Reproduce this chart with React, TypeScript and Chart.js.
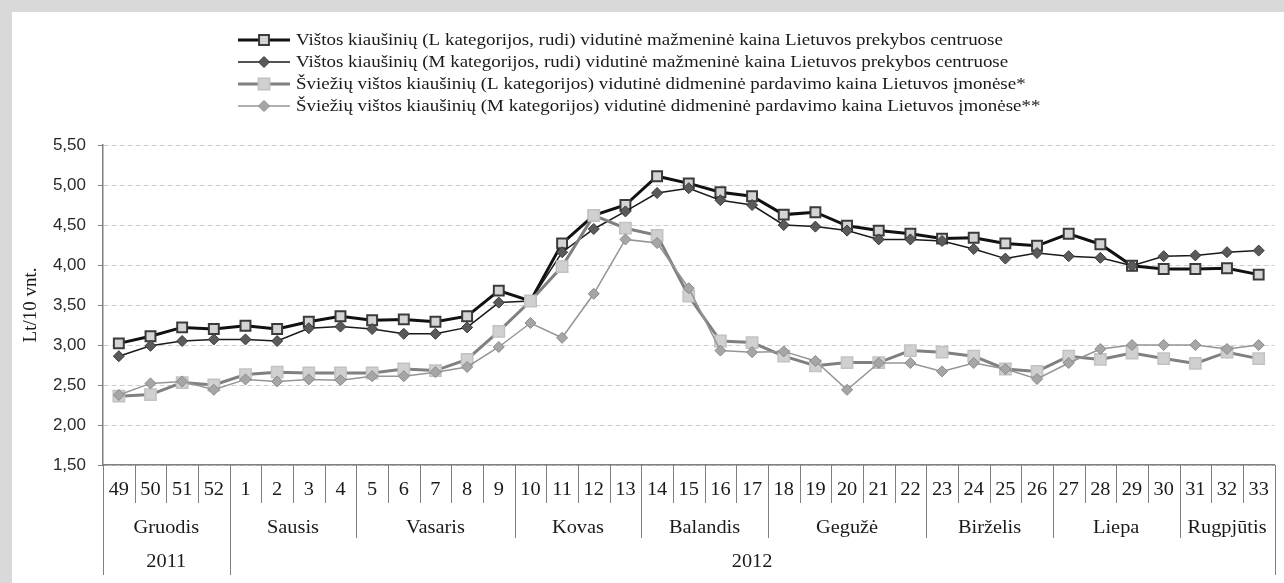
import React, { useEffect, useRef } from 'react';
import { Chart, registerables } from 'chart.js';

Chart.register(...registerables);

// ---- data ----
const weeks = ['49', '50', '51', '52', '1', '2', '3', '4', '5', '6', '7', '8', '9', '10', '11', '12', '13', '14', '15', '16', '17', '18', '19', '20', '21', '22', '23', '24', '25', '26', '27', '28', '29', '30', '31', '32', '33'];
const months = ['Gruodis', 'Sausis', 'Vasaris', 'Kovas', 'Balandis', 'Gegužė', 'Birželis', 'Liepa', 'Rugpjūtis'];
const monthSpans = [4, 4, 5, 4, 4, 5, 4, 4, 3];
const years = ['2011', '2012'];
const yearSpans = [4, 33];

const seriesNames = [
  'Vištos kiaušinių (L kategorijos, rudi) vidutinė mažmeninė kaina Lietuvos prekybos centruose',
  'Vištos kiaušinių (M kategorijos, rudi) vidutinė mažmeninė kaina Lietuvos prekybos centruose',
  'Šviežių vištos kiaušinių (L kategorijos) vidutinė didmeninė pardavimo kaina Lietuvos įmonėse*',
  'Šviežių vištos kiaušinių (M kategorijos) vidutinė didmeninė pardavimo kaina Lietuvos įmonėse**',
];

const lRetail = [3.02, 3.11, 3.22, 3.2, 3.24, 3.2, 3.29, 3.36, 3.31, 3.32, 3.29, 3.36, 3.68, 3.55, 4.27, 4.62, 4.75, 5.11, 5.02, 4.91, 4.86, 4.63, 4.66, 4.49, 4.43, 4.39, 4.33, 4.34, 4.27, 4.24, 4.39, 4.26, 3.99, 3.95, 3.95, 3.96, 3.88];
const mRetail = [2.86, 2.99, 3.05, 3.07, 3.07, 3.05, 3.21, 3.23, 3.2, 3.14, 3.14, 3.22, 3.53, 3.55, 4.16, 4.45, 4.67, 4.9, 4.96, 4.81, 4.75, 4.5, 4.48, 4.43, 4.32, 4.32, 4.3, 4.2, 4.08, 4.15, 4.11, 4.09, 3.99, 4.11, 4.12, 4.16, 4.18];
const lWholesale = [2.36, 2.38, 2.53, 2.5, 2.63, 2.66, 2.65, 2.65, 2.65, 2.7, 2.68, 2.82, 3.17, 3.55, 3.98, 4.62, 4.46, 4.37, 3.61, 3.05, 3.03, 2.86, 2.74, 2.78, 2.78, 2.93, 2.91, 2.86, 2.7, 2.67, 2.86, 2.82, 2.9, 2.83, 2.77, 2.91, 2.83];
const mWholesale = [2.375, 2.52, 2.545, 2.44, 2.57, 2.545, 2.57, 2.56, 2.61, 2.61, 2.66, 2.725, 2.975, 3.275, 3.09, 3.64, 4.32, 4.275, 3.71, 2.93, 2.91, 2.92, 2.8, 2.44, 2.775, 2.775, 2.67, 2.775, 2.7, 2.575, 2.775, 2.95, 3.0, 3.0, 3.0, 2.95, 3.0];

const yMin = 1.5;
const yMax = 5.5;
const yStep = 0.5;
const yTitle = 'Lt/10 vnt.';

const SERIF = '"Liberation Serif", "Times New Roman", serif';
const SANS = '"Liberation Sans", Arial, sans-serif';

function drawMarker(ctx: CanvasRenderingContext2D, style: string, x: number, y: number, r: number, fill: string, stroke: string, bw: number) {
  ctx.save();
  ctx.beginPath();
  if (style === 'rect') {
    const s = Math.SQRT1_2 * r;
    ctx.rect(x - s, y - s, 2 * s, 2 * s);
  } else {
    ctx.moveTo(x, y - r);
    ctx.lineTo(x + r, y);
    ctx.lineTo(x, y + r);
    ctx.lineTo(x - r, y);
    ctx.closePath();
  }
  ctx.fillStyle = fill;
  ctx.fill();
  ctx.lineWidth = bw;
  ctx.strokeStyle = stroke;
  ctx.stroke();
  ctx.restore();
}

function wideText(ctx: CanvasRenderingContext2D, text: string, x: number, y: number, sx: number) {
  ctx.save();
  ctx.translate(x, y);
  ctx.scale(sx, 1);
  ctx.fillText(text, 0, 0);
  ctx.restore();
}

const framePlugin = {
  id: 'frame',
  beforeDraw(chart: any) {
    const { ctx, width, height } = chart;
    ctx.save();
    ctx.fillStyle = '#d9d9d9';
    ctx.fillRect(0, 0, width, height);
    ctx.fillStyle = '#ffffff';
    ctx.fillRect(12, 12, width - 12, height - 12);
    ctx.restore();
  },
};

const legendPlugin = {
  id: 'customLegend',
  afterDraw(chart: any) {
    const ctx: CanvasRenderingContext2D = chart.ctx;
    chart.data.datasets.forEach((ds: any, i: number) => {
      const y = 40 + i * 22;
      const x0 = 238;
      const x1 = 290;
      ctx.save();
      ctx.strokeStyle = ds.borderColor;
      ctx.lineWidth = ds.borderWidth;
      ctx.beginPath();
      ctx.moveTo(x0, y);
      ctx.lineTo(x1, y);
      ctx.stroke();
      drawMarker(ctx, ds.pointStyle, (x0 + x1) / 2, y, ds.pointRadius, ds.pointBackgroundColor, ds.pointBorderColor, ds.pointBorderWidth);
      ctx.fillStyle = '#1a1a1a';
      ctx.font = '17px ' + SERIF;
      ctx.textAlign = 'left';
      ctx.textBaseline = 'middle';
      wideText(ctx, ds.label, 296, y + 1, 1.115);
      ctx.restore();
    });
  },
};

const xLabelsPlugin = {
  id: 'xLabels',
  afterDraw(chart: any) {
    const ctx: CanvasRenderingContext2D = chart.ctx;
    const xs = chart.scales.x;
    const n = weeks.length;
    const bound = (k: number) =>
      k === 0 ? xs.left : k === n ? xs.right : (xs.getPixelForValue(k - 1) + xs.getPixelForValue(k)) / 2;
    const top = xs.top;
    const monthBounds = new Set<number>();
    let acc = 0;
    monthSpans.forEach((s) => { monthBounds.add(acc); acc += s; monthBounds.add(acc); });
    const yearBounds = new Set<number>();
    acc = 0;
    yearSpans.forEach((s) => { yearBounds.add(acc); acc += s; yearBounds.add(acc); });

    ctx.save();
    ctx.strokeStyle = '#7f7f7f';
    ctx.lineWidth = 1;
    for (let k = 0; k <= n; k++) {
      const x = Math.round(bound(k)) + 0.5;
      let len = 38;
      if (monthBounds.has(k)) len = 73;
      if (yearBounds.has(k)) len = 110;
      ctx.beginPath();
      ctx.moveTo(x, top);
      ctx.lineTo(x, top + len);
      ctx.stroke();
    }
    ctx.fillStyle = '#1a1a1a';
    ctx.textAlign = 'center';
    ctx.textBaseline = 'middle';
    ctx.font = '18px ' + SERIF;
    const sx = 1.13;
    weeks.forEach((w, i) => {
      wideText(ctx, w, xs.getPixelForValue(i), top + 25, sx);
    });
    acc = 0;
    months.forEach((m, j) => {
      const x = (bound(acc) + bound(acc + monthSpans[j])) / 2;
      wideText(ctx, m, x, top + 63, sx);
      acc += monthSpans[j];
    });
    acc = 0;
    years.forEach((yv, j) => {
      const x = (bound(acc) + bound(acc + yearSpans[j])) / 2;
      wideText(ctx, yv, x, top + 97, sx);
      acc += yearSpans[j];
    });
    ctx.restore();
  },
};

export default function App() {
  const ref = useRef<HTMLCanvasElement>(null);
  useEffect(() => {
    document.body.style.margin = '0';
    const chart = new Chart(ref.current as HTMLCanvasElement, {
      type: 'line',
      data: {
        labels: weeks,
        datasets: [
          {
            label: seriesNames[0],
            data: lRetail,
            borderColor: '#111111',
            borderWidth: 3,
            pointStyle: 'rect',
            pointRadius: 7,
            pointBackgroundColor: '#d4d4d4',
            pointBorderColor: '#3a3a3a',
            pointBorderWidth: 2,
            order: 4,
          },
          {
            label: seriesNames[1],
            data: mRetail,
            borderColor: '#1a1a1a',
            borderWidth: 1.5,
            pointStyle: 'rectRot',
            pointRadius: 5.5,
            pointBackgroundColor: '#5a5a5a',
            pointBorderColor: '#3a3a3a',
            pointBorderWidth: 1,
            order: 3,
          },
          {
            label: seriesNames[2],
            data: lWholesale,
            borderColor: '#808080',
            borderWidth: 3,
            pointStyle: 'rect',
            pointRadius: 8,
            pointBackgroundColor: '#d0d0d0',
            pointBorderColor: '#c2c2c2',
            pointBorderWidth: 1.5,
            order: 2,
          },
          {
            label: seriesNames[3],
            data: mWholesale,
            borderColor: '#959595',
            borderWidth: 1.5,
            pointStyle: 'rectRot',
            pointRadius: 5.5,
            pointBackgroundColor: '#a6a6a6',
            pointBorderColor: '#8a8a8a',
            pointBorderWidth: 1,
            order: 1,
          },
        ] as any,
      },
      options: {
        animation: false,
        responsive: true,
        maintainAspectRatio: false,
        layout: { padding: { top: 145, right: 7, bottom: 0, left: 0 } },
        plugins: {
          legend: { display: false },
          tooltip: { enabled: false },
        },
        scales: {
          x: {
            type: 'category',
            offset: true,
            grid: { display: false },
            ticks: { display: false },
            border: { display: true, color: '#7f7f7f', width: 1.5 },
            afterFit: (s: any) => { s.height = 118; },
          },
          y: {
            min: yMin,
            max: yMax,
            ticks: {
              stepSize: yStep,
              padding: 12,
              color: '#2a2a2a',
              font: { family: SANS, size: 17 },
              callback: (v: any) => Number(v).toFixed(2).replace('.', ','),
            },
            grid: { color: '#cdcdcd', lineWidth: 1, tickLength: 5, tickColor: '#7f7f7f', tickWidth: 1 },
            border: { display: true, color: '#7f7f7f', width: 1.5, dash: [5, 3] },
            title: {
              display: true,
              text: yTitle,
              color: '#1a1a1a',
              font: { family: SERIF, size: 19 },
              padding: { top: 20, bottom: 0 },
            },
            afterFit: (s: any) => { s.width = 103; },
          },
        },
      } as any,
      plugins: [framePlugin, legendPlugin, xLabelsPlugin],
    });
    return () => chart.destroy();
  }, []);
  return (
    <div style={{ width: 1284, height: 583, position: 'relative' }}>
      <canvas ref={ref} />
    </div>
  );
}
